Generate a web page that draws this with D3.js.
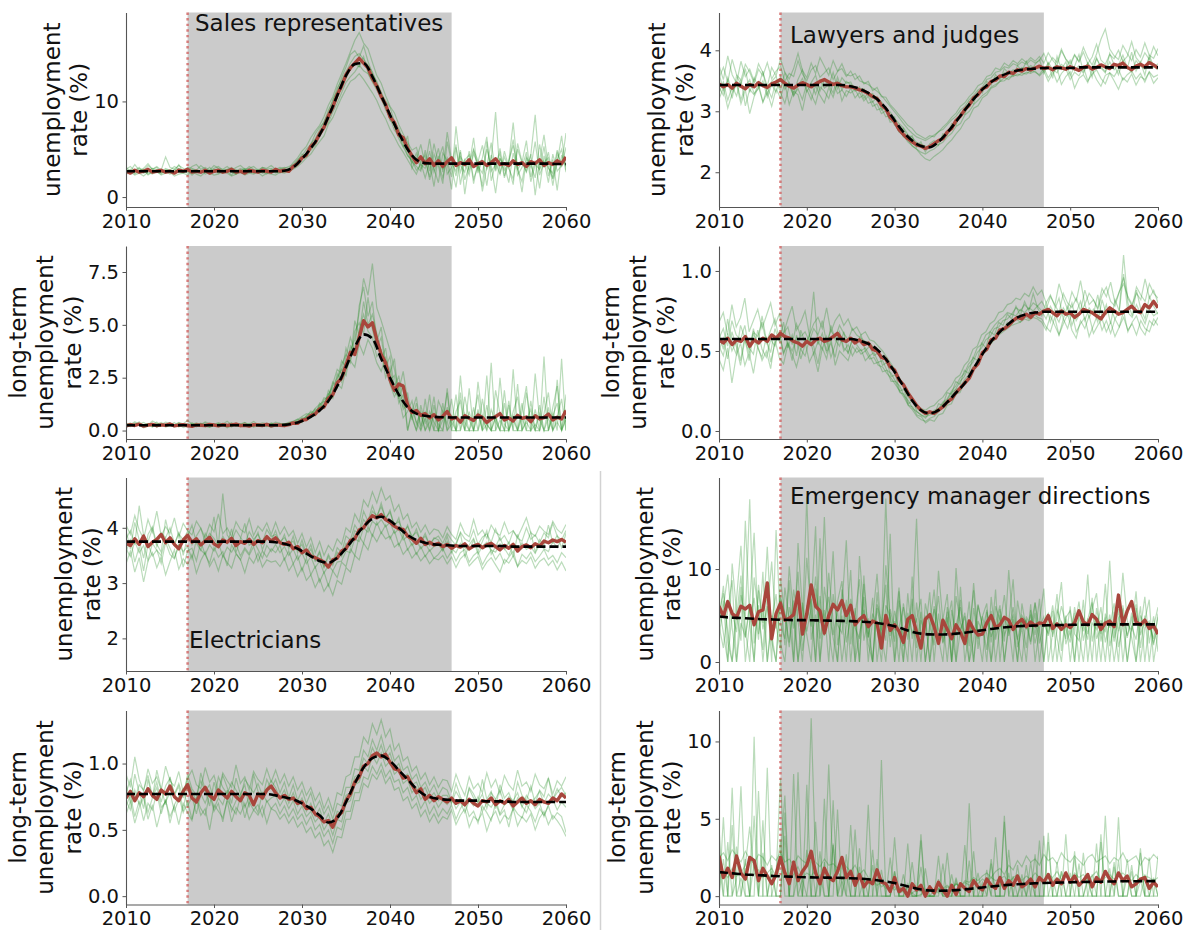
<!DOCTYPE html>
<html>
<head>
<meta charset="utf-8">
<script src="https://cdn.jsdelivr.net/npm/d3@7"></script>
<style>
  html, body { margin: 0; padding: 0; background: #fff; }
  svg { display: block; font-family: "DejaVu Sans", sans-serif; }
</style>
</head>
<body>
<svg id="chart" width="1187" height="930"></svg>
<script>
// ---------------- time axis ----------------
const period = [2010, 2060];
const xTicks = [2010, 2020, 2030, 2040, 2050, 2060];
const shockWindow = [2017, 2047];

// ---------------- Sales representatives: unemployment rate ----------------
// dashed trend: one value per year 2010..2060
const salesRateTrend = [2.7,2.7,2.7,2.7,2.7,2.7,2.7,2.7,2.7,2.7,2.7,2.7,2.7,2.7,2.7,2.7,2.7,2.7,
  2.75,3.1,4.0,5.1,6.5,8.4,10.6,12.7,13.9,14.0,12.6,10.6,8.6,6.7,5.0,3.9,3.55,
  3.5,3.5,3.5,3.5,3.5,3.5,3.5,3.5,3.5,3.5,3.5,3.5,3.5,3.5,3.45,3.45];
// highlighted run: half-yearly values 2010..2060
const salesRateHighlight = [2.7,2.5,2.8,2.6,2.7,2.9,2.6,2.7,2.8,2.6,2.7,2.5,2.8,2.7,2.9,2.6,2.7,2.6,2.8,2.5,2.7,2.8,2.6,2.7,2.9,2.6,2.7,2.5,2.8,2.7,2.6,2.8,2.7,2.6,2.9,2.7,2.8,2.7,
  3.2,3.5,4.1,4.4,5.3,5.7,6.6,7.3,8.5,9.4,10.7,11.6,12.8,13.5,14.0,14.5,14.0,13.5,12.4,11.6,10.5,9.7,8.4,7.8,6.5,6.2,5.1,4.3,3.6,4.2,3.5,
  4.0,3.3,3.8,3.2,3.7,4.1,3.3,3.6,3.4,3.9,3.2,3.5,3.7,3.3,3.6,4.0,3.4,3.5,3.3,3.8,3.4,3.6,3.2,3.7,3.5,3.9,3.3,3.6,3.4,3.8,3.5,4.2];
// simulated runs: half-yearly values 2010..2060
const salesRateRuns = [
  [2.9,2.6,2.8,3.1,2.5,2.7,3.0,2.6,2.4,2.9,2.8,2.6,3.0,2.7,2.5,2.9,2.8,2.6,2.7,3.1,2.6,2.5,2.8,2.9,2.7,2.4,2.8,3.0,2.6,2.7,2.9,2.5,2.8,2.7,2.6,3.0,2.8,2.9,
   3.3,3.8,4.5,4.2,5.6,6.1,7.0,7.9,8.8,10.2,11.1,12.5,13.6,14.9,15.3,14.6,15.8,14.2,12.9,12.1,10.8,10.1,9.4,7.9,7.2,5.9,4.8,3.5,4.6,2.9,3.8,
   2.1,4.5,3.2,1.4,5.8,3.6,2.7,4.9,1.8,3.3,6.2,2.5,3.9,1.2,4.4,3.0,5.1,2.2,3.7,7.8,2.9,1.6,4.2,3.4,2.0,5.5,3.1,4.7,1.9,3.6,6.4,2.8],
  [2.5,2.8,2.4,2.7,2.9,2.3,2.6,2.8,2.5,2.7,2.4,2.9,2.6,2.5,2.8,2.3,2.7,2.6,2.9,2.4,2.8,2.6,2.5,2.7,2.3,2.9,2.6,2.4,2.8,2.5,2.7,2.6,2.4,2.9,2.5,2.7,2.6,2.8,
   3.0,3.4,3.9,4.6,4.9,5.4,6.3,7.1,7.8,8.9,9.8,10.9,12.0,12.6,13.1,13.8,13.2,12.9,12.0,11.2,10.3,9.1,8.3,7.0,6.4,5.3,4.3,3.9,2.8,3.4,3.0,
   4.8,2.6,3.9,5.3,2.4,3.1,1.0,4.2,3.5,2.3,4.9,3.8,0.6,3.2,5.7,2.7,4.0,3.3,1.5,4.6,2.9,3.6,5.9,2.1,3.8,0.9,4.3,3.0,2.5,4.9,3.2,3.9],
  [2.9,3.2,2.7,3.0,2.8,3.3,2.9,3.1,2.6,3.0,2.8,3.2,2.9,2.7,3.1,3.0,2.8,3.3,2.9,2.7,3.0,3.2,2.8,2.9,3.1,2.7,3.0,2.8,3.2,2.9,2.7,3.1,2.9,3.0,2.8,2.9,3.1,3.0,
   3.6,4.1,4.8,5.3,6.2,6.9,7.5,8.4,9.6,10.5,11.8,12.9,14.0,15.2,16.4,17.2,16.1,15.5,14.1,12.7,11.9,10.6,9.5,8.8,7.6,6.6,5.7,4.9,5.2,3.6,4.4,
   1.8,3.4,5.1,2.6,6.8,3.9,2.2,4.7,0.3,3.6,5.0,2.8,4.1,6.3,1.7,3.5,2.4,4.8,3.1,1.3,5.6,3.7,2.6,4.4,8.6,2.9,3.8,1.5,4.5,2.7,3.3,5.2],
  [2.4,2.6,2.3,2.5,2.2,2.6,2.4,2.7,2.3,2.5,2.6,2.2,2.4,2.5,2.3,2.7,2.4,2.2,2.6,2.5,2.3,2.4,2.7,2.5,2.2,2.4,2.6,2.3,2.5,2.4,2.6,2.2,2.5,2.4,2.3,2.6,2.5,2.7,
   2.9,3.2,3.6,4.1,4.5,5.2,5.8,6.4,7.6,8.3,9.4,10.4,11.3,12.1,12.4,12.9,12.3,11.6,10.9,10.1,9.0,8.2,7.1,6.3,5.4,4.7,3.9,3.1,2.4,3.6,2.0,
   3.7,1.1,4.3,2.9,3.5,0.8,5.2,2.6,3.9,4.4,1.9,3.2,2.5,5.0,3.3,0.4,4.1,2.8,3.6,6.0,2.3,3.1,4.7,1.6,3.4,2.9,5.3,2.2,3.9,0.7,4.4,3.2],
  [3.1,2.7,3.4,2.8,3.0,3.5,2.9,3.2,2.8,4.2,3.1,2.9,3.3,3.0,2.7,3.2,3.4,2.9,3.1,2.8,3.3,3.0,2.9,3.2,2.8,3.1,3.3,2.9,3.0,3.2,2.8,3.1,3.0,3.3,2.9,3.1,3.0,3.2,
   3.4,3.9,4.3,5.0,5.5,6.6,7.3,7.8,9.1,10.0,11.4,12.2,13.1,14.0,14.7,15.0,14.4,13.8,13.1,11.9,11.0,9.8,8.6,7.4,6.1,5.2,6.4,3.0,4.0,5.5,3.3,
   6.1,3.0,1.5,4.6,3.8,2.1,7.4,3.3,2.6,4.8,1.4,3.7,5.4,2.9,3.9,8.9,2.4,4.2,3.0,1.9,5.0,3.6,2.7,4.5,0.2,3.8,6.5,3.1,2.0,4.6,3.4,6.7],
  [2.6,2.9,2.5,2.7,2.8,2.4,2.7,2.9,2.6,2.5,2.8,2.7,3.4,2.6,2.9,2.5,2.7,2.8,2.4,2.6,2.9,2.7,2.5,2.8,2.6,2.4,2.7,2.9,2.6,2.8,2.5,2.7,2.6,2.8,2.7,2.5,2.8,2.7,
   3.1,3.5,4.2,4.4,5.3,5.6,6.8,7.3,8.2,9.3,10.4,11.6,12.4,13.4,14.0,13.6,14.7,13.0,12.2,11.5,10.4,9.7,8.0,7.7,6.9,5.6,4.4,3.7,3.2,2.7,4.9,
   2.7,5.6,3.5,2.0,4.1,3.2,5.5,1.3,3.9,2.8,4.5,3.5,1.1,5.8,2.7,3.4,4.6,2.0,3.8,5.4,3.2,0.5,4.0,3.1,5.8,2.3,3.6,4.1,1.2,3.9,5.0,2.6]
];

// ---------------- Sales representatives: long-term unemployment rate ----------------
const salesLongTrend = [0.25,0.25,0.25,0.25,0.25,0.25,0.25,0.25,0.25,0.25,0.25,0.25,0.25,0.25,0.25,0.25,0.25,0.25,
  0.27,0.33,0.45,0.65,0.95,1.4,2.1,3.0,3.95,4.55,4.35,3.4,2.5,1.7,1.1,0.8,0.7,
  0.65,0.63,0.62,0.62,0.62,0.62,0.62,0.62,0.62,0.62,0.62,0.62,0.62,0.62,0.62,0.62];
const salesLongHighlight = [0.22,0.28,0.24,0.30,0.21,0.26,0.29,0.23,0.27,0.25,0.31,0.22,0.26,0.28,0.24,0.20,0.27,0.25,0.23,0.29,0.26,0.22,0.28,0.24,0.27,0.30,0.23,0.25,0.21,0.28,0.26,0.24,0.29,0.22,0.27,0.25,0.23,0.28,
  0.36,0.34,0.49,0.52,0.71,0.78,1.02,1.12,1.52,1.70,2.25,2.48,3.1,3.7,3.6,4.4,5.2,4.9,5.1,4.3,3.6,3.2,2.4,1.9,2.2,2.1,1.2,0.85,0.95,0.72,0.8,
  0.6,0.75,0.5,0.68,0.9,0.55,0.62,0.4,0.7,0.58,0.48,0.73,0.62,0.38,0.55,0.66,0.8,0.5,0.6,0.45,0.72,0.58,0.64,0.42,0.7,0.55,0.61,0.78,0.5,0.63,0.55,0.95];
const salesLongRuns = [
  [0.18,0.32,0.25,0.41,0.20,0.28,0.35,0.15,0.30,0.22,0.27,0.38,0.19,0.26,0.33,0.21,0.29,0.24,0.36,0.17,0.28,0.31,0.22,0.26,0.34,0.20,0.29,0.25,0.18,0.32,0.27,0.23,0.35,0.21,0.28,0.26,0.30,0.37,
   0.42,0.55,0.38,0.72,0.85,0.70,1.3,1.1,1.9,1.6,2.7,2.3,3.5,4.4,3.8,5.9,6.8,5.4,6.1,4.2,4.9,3.1,2.7,3.4,1.5,2.2,0.0,0.9,1.6,0.0,0.6,
   0.0,1.2,0.0,0.5,1.8,0.0,0.0,2.6,0.4,0.0,1.1,0.0,0.7,0.0,3.2,0.0,0.5,0.0,1.4,0.0,0.0,0.9,2.1,0.0,0.3,0.0,1.6,0.0,0.8,0.0,3.4,0.0],
  [0.30,0.22,0.36,0.28,0.19,0.33,0.25,0.40,0.21,0.31,0.26,0.18,0.34,0.29,0.23,0.37,0.24,0.30,0.20,0.32,0.27,0.19,0.35,0.28,0.22,0.30,0.25,0.38,0.21,0.27,0.33,0.24,0.19,0.31,0.26,0.34,0.28,0.32,
   0.37,0.48,0.60,0.51,0.78,1.02,0.95,1.45,1.62,2.3,2.0,3.1,3.6,3.2,4.7,5.1,4.6,6.3,4.8,3.9,4.4,3.0,3.5,2.0,2.6,1.1,1.8,0.5,1.3,0.2,0.9,
   0.6,0.0,1.4,0.9,0.0,0.3,1.7,0.0,0.8,0.0,0.0,2.3,0.6,0.0,1.0,0.4,0.0,1.9,0.0,0.7,0.0,1.3,0.0,0.0,2.7,0.5,0.0,1.1,0.0,0.6,1.5,0.0],
  [0.15,0.24,0.20,0.29,0.13,0.22,0.18,0.27,0.31,0.16,0.23,0.19,0.28,0.14,0.21,0.25,0.17,0.30,0.20,0.15,0.24,0.19,0.26,0.13,0.22,0.28,0.18,0.21,0.25,0.16,0.23,0.19,0.27,0.15,0.22,0.20,0.26,0.24,
   0.30,0.41,0.46,0.59,0.66,0.88,1.18,1.05,1.70,2.1,2.5,2.9,2.6,3.8,4.3,5.6,7.2,6.4,7.9,5.8,5.2,4.5,3.8,2.9,1.9,2.8,1.4,0.7,0.0,1.2,0.3,
   1.7,0.0,0.0,0.9,0.3,1.5,0.0,0.6,0.0,2.0,0.0,0.8,0.0,1.2,0.0,0.0,2.5,0.3,0.0,0.9,1.6,0.0,0.4,0.0,1.0,0.0,3.5,0.0,0.7,1.3,0.0,0.5],
  [0.35,0.28,0.42,0.31,0.38,0.26,0.45,0.33,0.29,0.40,0.34,0.27,0.39,0.32,0.48,0.30,0.36,0.28,0.41,0.33,0.29,0.37,0.31,0.44,0.27,0.35,0.32,0.38,0.30,0.43,0.29,0.36,0.33,0.28,0.40,0.34,0.31,0.39,
   0.45,0.52,0.66,0.80,0.74,1.05,1.25,1.38,1.31,1.98,2.2,2.0,2.9,3.3,3.0,4.1,3.6,4.3,3.9,3.2,2.8,3.5,2.2,1.6,2.0,1.0,1.3,0.6,0.0,0.8,0.0,
   0.9,0.4,0.0,1.3,0.0,0.7,0.0,0.0,1.6,0.5,0.0,1.0,0.0,2.6,0.0,0.6,0.0,0.0,1.2,0.0,2.2,0.0,0.5,1.0,0.0,0.0,0.8,1.8,0.0,0.4,0.0,1.7],
  [0.24,0.19,0.33,0.26,0.22,0.29,0.17,0.31,0.25,0.20,0.35,0.23,0.18,0.30,0.26,0.21,0.33,0.19,0.27,0.24,0.31,0.20,0.26,0.29,0.17,0.33,0.22,0.27,0.24,0.19,0.30,0.26,0.21,0.34,0.23,0.28,0.20,0.29,
   0.39,0.33,0.57,0.64,0.92,0.81,1.12,1.55,1.48,2.2,2.9,2.7,3.9,3.3,5.2,4.5,6.1,5.0,5.5,4.6,3.3,3.9,2.4,2.6,1.3,1.7,0.0,1.0,0.4,0.0,1.5,
   0.0,0.8,0.3,0.0,2.0,0.0,0.9,1.4,0.0,0.0,0.6,1.7,0.0,0.3,0.0,1.9,0.8,0.0,0.0,2.9,0.0,0.6,0.0,1.4,0.0,0.8,0.0,0.0,1.1,2.1,0.0,0.6],
  [0.28,0.36,0.22,0.30,0.27,0.34,0.21,0.29,0.38,0.25,0.31,0.23,0.36,0.27,0.20,0.32,0.28,0.35,0.24,0.30,0.22,0.33,0.29,0.26,0.37,0.23,0.30,0.27,0.34,0.22,0.31,0.28,0.25,0.36,0.29,0.24,0.33,0.31,
   0.35,0.44,0.51,0.68,0.62,0.95,0.90,1.28,1.75,1.52,2.4,3.3,3.0,4.0,3.7,4.8,5.5,4.7,4.4,3.5,3.8,2.5,3.0,1.8,1.6,0.6,0.9,1.4,0.3,0.9,0.0,
   0.4,1.6,0.0,0.0,1.1,0.4,0.0,1.8,0.0,0.9,0.0,0.0,1.5,0.3,0.0,0.7,0.0,1.3,0.0,0.5,0.0,0.0,1.8,0.4,0.0,1.2,0.0,0.6,0.0,2.4,0.0,1.0]
];

// ---------------- Lawyers and judges: unemployment rate ----------------
const lawyersRateTrend = [3.43,3.43,3.43,3.43,3.43,3.43,3.43,3.43,3.43,3.43,3.43,3.43,3.43,3.43,3.43,
  3.41,3.37,3.30,3.20,3.05,2.85,2.66,2.52,2.43,2.41,2.50,2.65,2.83,3.02,3.20,3.36,3.48,3.57,3.63,3.67,3.69,3.70,
  3.71,3.71,3.71,3.71,3.72,3.72,3.72,3.72,3.72,3.72,3.72,3.72,3.72,3.72];
const lawyersRateHighlight = [3.45,3.40,3.44,3.38,3.46,3.41,3.37,3.44,3.40,3.47,3.42,3.39,3.45,3.48,3.52,3.46,3.41,3.38,3.43,3.47,3.44,3.40,3.45,3.49,3.52,3.48,3.44,3.46,3.42,3.40,
  3.40,3.38,3.35,3.33,3.29,3.24,3.21,3.10,3.04,2.90,2.83,2.70,2.62,2.55,2.50,2.45,2.43,2.39,2.42,2.47,2.52,2.55,2.66,2.72,2.85,2.92,3.03,3.10,3.22,3.27,3.37,3.40,3.49,3.51,3.58,3.57,3.64,3.62,3.68,3.66,3.70,3.68,3.71,
  3.74,3.70,3.72,3.68,3.73,3.71,3.69,3.73,3.70,3.67,3.72,3.74,3.69,3.72,3.76,3.73,3.70,3.77,3.75,3.79,3.72,3.68,3.74,3.77,3.73,3.80,3.76,3.71];
const lawyersRateRuns = [
  [3.62,3.35,3.50,3.21,3.58,3.44,3.70,3.31,3.55,3.40,3.66,3.28,3.49,3.57,3.36,3.63,3.45,3.30,3.52,3.68,3.39,3.47,3.59,3.33,3.51,3.42,3.64,3.37,3.55,3.46,
   3.48,3.33,3.40,3.21,3.30,3.15,3.24,3.02,3.08,2.87,2.91,2.68,2.72,2.55,2.60,2.41,2.50,2.33,2.47,2.52,2.44,2.63,2.61,2.80,2.77,2.98,2.95,3.16,3.12,3.33,3.30,3.49,3.43,3.60,3.51,3.70,3.62,3.58,3.75,3.66,3.82,3.64,3.77,
   3.85,3.62,3.78,3.54,3.90,3.69,3.81,3.58,3.74,3.93,3.65,3.79,3.56,3.88,3.71,3.63,3.95,3.76,3.60,3.84,3.70,3.97,3.66,3.81,3.59,3.92,3.74,3.68],
  [3.30,3.48,3.18,3.41,3.25,3.52,3.09,3.36,3.27,3.45,3.15,3.39,3.22,3.50,3.31,3.13,3.42,3.26,3.37,3.19,3.46,3.28,3.12,3.40,3.33,3.21,3.47,3.29,3.35,3.24,
   3.38,3.22,3.31,3.17,3.25,3.08,3.12,2.96,3.01,2.82,2.84,2.66,2.61,2.50,2.44,2.38,2.33,2.30,2.35,2.38,2.45,2.49,2.58,2.64,2.75,2.80,2.94,3.00,3.11,3.18,3.26,3.31,3.40,3.44,3.49,3.55,3.52,3.60,3.58,3.63,3.61,3.67,3.64,
   3.60,3.71,3.55,3.66,3.48,3.62,3.70,3.52,3.64,3.58,3.73,3.50,3.61,3.68,3.54,3.45,3.63,3.57,3.69,3.51,3.60,3.66,3.53,3.62,3.48,3.65,3.56,3.60],
  [3.55,3.72,3.48,3.85,3.60,3.51,3.77,3.64,3.46,3.69,3.58,3.80,3.53,3.66,3.74,3.49,3.62,3.57,3.83,3.61,3.50,3.68,3.75,3.56,3.63,3.71,3.52,3.65,3.78,3.60,
   3.58,3.62,3.50,3.47,3.44,3.38,3.33,3.26,3.17,3.08,2.99,2.90,2.80,2.71,2.64,2.58,2.55,2.52,2.56,2.61,2.66,2.74,2.81,2.90,2.97,3.08,3.14,3.24,3.31,3.42,3.46,3.57,3.60,3.71,3.68,3.79,3.74,3.83,3.78,3.86,3.80,3.88,3.82,
   3.90,3.79,3.96,3.84,3.75,3.99,3.86,3.78,3.93,3.82,4.05,3.88,3.76,3.94,4.18,4.35,4.02,3.91,3.85,4.08,3.95,3.83,4.01,3.89,4.12,3.92,3.87,4.03],
  [3.20,3.38,3.05,3.29,3.44,3.12,3.35,2.96,3.24,3.40,3.15,3.31,3.08,3.37,3.22,3.46,3.11,3.33,3.27,3.01,3.36,3.19,3.42,3.26,3.14,3.39,3.23,3.48,3.17,3.34,
   3.30,3.36,3.22,3.27,3.13,3.16,3.02,3.05,2.91,2.93,2.77,2.74,2.58,2.54,2.43,2.38,2.29,2.22,2.19,2.26,2.31,2.37,2.46,2.53,2.63,2.71,2.84,2.90,3.05,3.09,3.22,3.27,3.38,3.41,3.49,3.50,3.56,3.57,3.61,3.59,3.64,3.62,3.66,
   3.58,3.66,3.49,3.62,3.71,3.44,3.57,3.65,3.38,3.54,3.60,3.47,3.68,3.52,3.41,3.59,3.63,3.50,3.36,3.55,3.48,3.61,3.43,3.57,3.52,3.64,3.46,3.55],
  [3.75,3.52,3.91,3.60,3.46,3.82,3.57,3.69,3.49,3.78,3.63,3.41,3.72,3.58,3.86,3.64,3.53,3.70,3.95,3.67,3.55,3.79,3.62,3.88,3.74,3.59,3.83,3.66,3.70,3.57,
   3.66,3.52,3.58,3.45,3.49,3.34,3.39,3.24,3.23,3.11,3.03,2.94,2.86,2.77,2.72,2.63,2.59,2.55,2.60,2.58,2.67,2.70,2.78,2.86,2.92,3.02,3.08,3.19,3.26,3.35,3.40,3.52,3.55,3.64,3.66,3.73,3.71,3.78,3.75,3.81,3.77,3.84,3.79,
   3.83,3.95,3.76,3.88,3.80,4.02,3.85,3.74,3.92,3.81,3.97,3.78,3.89,4.10,3.84,3.77,3.93,3.86,4.00,3.82,3.90,4.14,3.88,3.79,3.96,3.85,4.06,3.91],
  [3.40,3.26,3.55,3.33,3.48,3.19,3.41,3.52,3.29,3.37,3.50,3.23,3.44,3.31,3.57,3.36,3.47,3.25,3.42,3.54,3.32,3.45,3.28,3.51,3.38,3.43,3.30,3.56,3.35,3.49,
   3.44,3.40,3.35,3.37,3.26,3.29,3.17,3.16,3.03,2.99,2.88,2.80,2.73,2.62,2.57,2.49,2.46,2.43,2.40,2.48,2.50,2.60,2.62,2.76,2.80,2.93,2.99,3.12,3.18,3.29,3.35,3.43,3.47,3.55,3.56,3.63,3.62,3.68,3.65,3.72,3.69,3.75,3.70,
   3.72,3.66,3.80,3.69,3.63,3.77,3.71,3.84,3.67,3.75,3.62,3.79,3.70,3.86,3.73,3.65,3.81,3.68,3.76,3.92,3.71,3.64,3.83,3.74,3.69,3.87,3.72,3.78]
];

// ---------------- Lawyers and judges: long-term unemployment rate ----------------
const lawyersLongTrend = [0.575,0.575,0.575,0.575,0.575,0.575,0.575,0.575,0.575,0.575,0.575,0.575,0.575,0.575,0.575,0.575,
  0.565,0.545,0.51,0.45,0.37,0.28,0.19,0.13,0.11,0.13,0.18,0.24,0.30,0.39,0.48,0.56,0.62,0.67,0.71,0.73,0.74,
  0.745,0.745,0.745,0.745,0.745,0.745,0.745,0.745,0.745,0.745,0.745,0.745,0.745,0.745];
const lawyersLongHighlight = [0.57,0.55,0.58,0.54,0.57,0.56,0.59,0.53,0.57,0.55,0.58,0.56,0.60,0.58,0.61,0.59,0.58,0.56,0.55,0.53,0.56,0.54,0.57,0.58,0.56,0.57,0.59,0.61,0.57,0.56,0.58,0.55,
  0.57,0.54,0.55,0.51,0.50,0.46,0.45,0.40,0.38,0.32,0.29,0.24,0.20,0.16,0.13,0.11,0.12,0.11,0.13,0.15,0.18,0.20,0.24,0.27,0.30,0.33,0.39,0.42,0.49,0.51,0.57,0.58,0.63,0.64,0.66,0.69,0.71,0.70,0.73,0.71,0.74,
  0.73,0.75,0.76,0.74,0.72,0.75,0.73,0.74,0.71,0.73,0.76,0.75,0.74,0.72,0.70,0.74,0.77,0.75,0.73,0.74,0.76,0.78,0.75,0.74,0.79,0.77,0.81,0.77];
const lawyersLongRuns = [
  [0.62,0.51,0.70,0.55,0.48,0.66,0.58,0.44,0.61,0.53,0.72,0.57,0.49,0.64,0.56,0.68,0.52,0.60,0.47,0.63,0.55,0.59,0.87,0.54,0.61,0.50,0.66,0.57,0.53,0.62,0.48,0.58,
   0.55,0.60,0.50,0.53,0.47,0.49,0.41,0.43,0.34,0.35,0.25,0.26,0.17,0.19,0.12,0.10,0.08,0.12,0.10,0.17,0.16,0.24,0.23,0.31,0.29,0.38,0.36,0.46,0.44,0.55,0.52,0.62,0.60,0.68,0.66,0.73,0.70,0.78,0.72,0.81,0.75,0.86,0.77,
   0.72,0.80,0.68,0.76,0.83,0.70,0.78,0.66,0.74,0.81,0.69,0.77,0.73,0.85,0.71,0.79,0.67,0.82,0.75,1.10,0.80,0.72,0.88,0.76,0.70,0.84,0.78,0.73],
  [0.50,0.58,0.45,0.62,0.53,0.41,0.57,0.49,0.64,0.52,0.46,0.59,0.43,0.55,0.61,0.48,0.56,0.44,0.60,0.51,0.47,0.57,0.53,0.42,0.58,0.49,0.55,0.46,0.61,0.50,0.54,0.47,
   0.52,0.48,0.50,0.45,0.46,0.41,0.40,0.36,0.33,0.29,0.25,0.21,0.16,0.13,0.09,0.07,0.06,0.08,0.09,0.12,0.15,0.18,0.22,0.26,0.27,0.32,0.35,0.40,0.43,0.47,0.50,0.54,0.57,0.60,0.62,0.64,0.66,0.67,0.68,0.70,0.69,0.71,0.70,
   0.68,0.63,0.72,0.66,0.60,0.70,0.64,0.74,0.62,0.67,0.71,0.59,0.66,0.73,0.63,0.69,0.61,0.70,0.65,0.75,0.62,0.68,0.72,0.64,0.60,0.69,0.66,0.71],
  [0.68,0.74,0.60,0.79,0.65,0.71,0.83,0.62,0.69,0.76,0.64,0.72,0.80,0.66,0.73,0.61,0.70,0.78,0.63,0.68,0.75,0.60,0.67,0.71,0.64,0.77,0.62,0.69,0.73,0.66,0.70,0.63,
   0.65,0.60,0.62,0.57,0.56,0.53,0.50,0.46,0.42,0.38,0.33,0.28,0.24,0.19,0.16,0.14,0.13,0.15,0.16,0.19,0.21,0.25,0.28,0.33,0.35,0.41,0.44,0.51,0.53,0.60,0.62,0.67,0.69,0.74,0.75,0.79,0.80,0.83,0.82,0.86,0.84,0.90,0.85,
   0.88,0.80,0.85,0.78,0.92,0.83,0.76,0.87,0.81,0.94,0.79,0.86,0.82,0.77,0.89,0.84,0.93,0.80,0.87,0.96,0.83,0.78,0.90,0.85,0.81,0.92,0.86,0.83],
  [0.45,0.38,0.52,0.30,0.47,0.55,0.41,0.49,0.36,0.53,0.44,0.50,0.39,0.57,0.46,0.42,0.54,0.48,0.40,0.51,0.56,0.43,0.49,0.37,0.52,0.45,0.58,0.41,0.50,0.47,0.44,0.53,
   0.49,0.51,0.44,0.47,0.42,0.43,0.37,0.38,0.31,0.31,0.24,0.23,0.16,0.15,0.10,0.09,0.05,0.07,0.06,0.10,0.11,0.16,0.17,0.23,0.24,0.30,0.32,0.39,0.41,0.48,0.50,0.57,0.58,0.64,0.63,0.68,0.67,0.70,0.68,0.72,0.70,0.74,0.71,
   0.70,0.65,0.62,0.71,0.60,0.67,0.73,0.63,0.58,0.69,0.64,0.72,0.61,0.66,0.70,0.62,0.68,0.59,0.65,0.71,0.63,0.67,0.60,0.69,0.64,0.62,0.70,0.66],
  [0.58,0.64,0.53,0.69,0.60,0.57,0.66,0.51,0.62,0.59,0.68,0.55,0.63,0.70,0.57,0.61,0.65,0.54,0.67,0.59,0.62,0.56,0.64,0.60,0.69,0.55,0.63,0.58,0.66,0.61,0.57,0.64,
   0.60,0.58,0.56,0.55,0.52,0.48,0.47,0.43,0.40,0.35,0.31,0.27,0.21,0.18,0.14,0.12,0.10,0.11,0.13,0.14,0.18,0.20,0.25,0.28,0.33,0.36,0.42,0.45,0.52,0.54,0.60,0.62,0.66,0.69,0.71,0.74,0.73,0.77,0.75,0.79,0.76,0.80,0.78,
   0.81,0.76,0.84,0.79,0.74,0.86,0.80,0.77,0.83,0.75,0.88,0.79,0.82,0.76,0.85,0.90,0.81,0.78,0.87,0.92,0.84,0.79,0.86,0.82,0.95,0.83,0.88,0.80],
  [0.53,0.47,0.61,0.50,0.56,0.44,0.59,0.52,0.48,0.63,0.51,0.46,0.57,0.53,0.62,0.49,0.55,0.50,0.58,0.45,0.54,0.60,0.48,0.56,0.51,0.59,0.46,0.54,0.62,0.52,0.49,0.57,
   0.54,0.50,0.52,0.47,0.49,0.43,0.44,0.38,0.36,0.31,0.28,0.22,0.19,0.14,0.12,0.10,0.09,0.10,0.12,0.13,0.17,0.19,0.24,0.26,0.31,0.34,0.40,0.43,0.49,0.52,0.57,0.59,0.64,0.65,0.69,0.70,0.73,0.72,0.76,0.74,0.77,0.75,0.78,
   0.75,0.70,0.78,0.73,0.68,0.77,0.72,0.80,0.69,0.74,0.79,0.71,0.76,0.68,0.82,0.73,0.77,0.70,0.75,0.98,0.74,0.71,0.79,0.73,0.67,0.76,0.72,0.74]
];

// ---------------- Electricians: unemployment rate ----------------
const electriciansRateTrend = [3.75,3.75,3.75,3.75,3.75,3.75,3.75,3.75,3.75,3.75,3.75,3.75,3.75,3.75,3.75,3.75,3.75,
  3.74,3.71,3.66,3.58,3.49,3.40,3.37,3.46,3.63,3.83,4.02,4.16,4.20,4.13,4.00,3.87,3.78,3.73,3.70,3.69,3.68,
  3.67,3.67,3.67,3.67,3.67,3.67,3.66,3.66,3.66,3.66,3.66,3.66,3.66];
const electriciansRateHighlight = [3.72,3.68,3.80,3.70,3.85,3.66,3.74,3.79,3.88,3.73,3.82,3.70,3.62,3.78,3.86,3.74,3.80,3.69,3.76,3.83,3.71,3.66,3.78,3.74,3.81,3.68,3.75,3.72,3.79,3.70,3.77,3.73,3.84,3.76,
  3.82,3.73,3.70,3.74,3.62,3.66,3.55,3.60,3.49,3.46,3.42,3.38,3.29,3.42,3.45,3.58,3.62,3.77,3.80,3.96,4.00,4.12,4.22,4.18,4.24,4.15,4.10,4.03,3.98,3.97,3.85,3.80,3.72,3.81,3.70,3.74,3.69,
  3.72,3.66,3.70,3.63,3.68,3.65,3.71,3.62,3.67,3.70,3.64,3.69,3.72,3.66,3.60,3.68,3.63,3.70,3.58,3.66,3.69,3.64,3.71,3.67,3.76,3.73,3.78,3.75,3.79,3.74];
const electriciansRateRuns = [
  [3.95,3.62,4.10,3.78,3.45,3.88,4.02,3.70,3.56,4.15,3.81,3.67,3.93,3.50,3.84,4.05,3.72,3.59,3.90,3.76,4.20,3.63,3.85,3.71,3.98,3.55,3.80,4.08,3.68,3.74,3.92,3.60,3.83,3.77,
   3.95,3.70,3.88,3.62,3.85,3.55,3.78,3.52,3.70,3.41,3.58,3.30,3.52,3.36,3.64,3.55,3.85,3.78,4.05,3.92,4.30,4.12,4.40,4.18,4.45,4.15,4.32,4.02,4.18,3.85,4.05,3.80,3.98,3.74,3.90,3.68,3.82,
   3.78,3.60,3.85,3.55,3.72,3.90,3.48,3.69,3.81,3.58,3.75,3.95,3.52,3.66,3.83,3.61,3.74,3.47,3.88,3.63,3.71,3.92,3.56,3.79,3.68,4.05,3.73,3.86,3.64,3.90],
  [3.55,3.80,3.38,3.66,3.22,3.71,3.49,3.60,3.35,3.74,3.52,3.44,3.68,3.29,3.58,3.63,3.40,3.75,3.51,3.36,3.65,3.47,3.57,3.31,3.69,3.54,3.42,3.61,3.50,3.66,3.39,3.58,3.47,3.62,
   3.55,3.68,3.42,3.58,3.35,3.50,3.22,3.45,3.15,3.30,3.02,3.20,2.95,3.22,3.10,3.38,3.30,3.62,3.50,3.85,3.72,4.02,3.85,4.10,3.90,4.05,3.80,3.95,3.68,3.85,3.60,3.72,3.52,3.66,3.48,3.60,3.45,
   3.52,3.63,3.45,3.58,3.40,3.55,3.61,3.38,3.50,3.57,3.33,3.48,3.60,3.42,3.54,3.35,3.47,3.58,3.30,3.52,3.44,3.56,3.39,3.49,3.61,3.43,3.50,3.37,3.55,3.46],
  [4.05,3.88,4.22,3.96,3.80,4.15,3.92,4.30,3.85,4.02,3.90,4.18,3.83,4.08,3.95,3.87,4.12,3.99,3.82,4.06,3.93,4.25,3.89,4.00,3.84,4.11,3.97,3.91,4.16,3.86,4.03,3.94,4.09,3.88,
   4.10,3.88,4.02,3.85,3.95,3.72,3.90,3.65,3.82,3.55,3.75,3.50,3.68,3.58,3.80,3.70,4.00,3.92,4.25,4.10,4.50,4.38,4.65,4.45,4.72,4.50,4.58,4.30,4.42,4.15,4.25,4.00,4.10,3.92,4.05,3.88,3.98,
   3.95,3.82,4.02,3.88,3.79,4.08,3.90,3.84,4.15,3.87,3.96,3.81,4.05,3.92,3.86,4.10,3.89,3.95,3.83,4.00,4.18,3.91,3.85,4.03,3.94,3.88,4.12,3.97,3.90,4.06],
  [3.35,3.58,3.20,3.46,3.02,3.40,3.55,3.28,3.48,3.15,3.39,3.60,3.25,3.44,3.33,3.52,3.18,3.41,3.56,3.30,3.45,3.22,3.50,3.37,3.27,3.53,3.43,3.19,3.47,3.36,3.54,3.29,3.42,3.38,
   3.40,3.30,3.45,3.22,3.35,3.12,3.28,3.05,3.15,2.92,3.08,2.85,2.98,2.78,3.05,2.98,3.28,3.20,3.50,3.42,3.72,3.60,3.88,3.75,3.92,3.80,3.85,3.65,3.72,3.52,3.62,3.45,3.55,3.40,3.50,3.35,3.45,
   3.42,3.50,3.35,3.47,3.28,3.44,3.52,3.31,3.40,3.48,3.25,3.38,3.46,3.33,3.20,3.43,3.36,3.49,3.30,3.41,3.35,3.47,3.27,3.39,3.45,3.32,3.41,3.24,3.38,3.22],
  [3.80,3.95,3.70,4.40,3.86,3.75,3.98,3.66,3.91,3.82,4.00,3.72,3.89,3.78,3.94,3.69,3.85,3.99,3.74,3.90,3.81,3.68,4.62,3.87,3.76,3.96,3.83,3.71,3.93,3.79,3.88,3.73,3.97,3.84,
   3.88,3.75,3.82,3.70,3.76,3.60,3.70,3.48,3.62,3.40,3.55,3.28,3.48,3.32,3.56,3.48,3.72,3.66,3.95,3.88,4.15,4.05,4.30,4.22,4.38,4.18,4.28,4.05,4.12,3.92,4.02,3.85,3.92,3.76,3.85,3.70,3.80,
   3.85,3.72,3.90,3.78,3.68,3.92,3.80,3.75,3.96,3.70,3.83,3.89,3.74,3.98,3.77,3.86,3.71,3.94,3.81,3.76,4.00,3.79,3.87,3.73,3.91,3.82,4.08,3.85,3.78,3.95],
  [3.62,3.48,3.75,3.55,3.68,3.41,3.72,3.59,3.50,3.81,3.63,3.46,3.70,3.57,3.66,3.44,3.78,3.60,3.52,3.69,3.58,3.74,3.47,3.65,3.56,3.71,3.49,3.64,3.53,3.76,3.61,3.45,3.68,3.57,
   3.70,3.55,3.66,3.50,3.62,3.42,3.55,3.35,3.48,3.28,3.40,3.18,3.32,3.22,3.38,3.40,3.58,3.55,3.80,3.75,4.00,3.92,4.12,4.05,4.15,4.02,4.10,3.90,3.98,3.78,3.85,3.68,3.78,3.62,3.72,3.58,3.66,
   3.70,3.58,3.75,3.62,3.55,3.72,3.64,3.59,3.78,3.52,3.67,3.74,3.60,3.56,3.71,3.63,3.50,3.69,3.58,3.73,3.61,3.66,3.54,3.70,3.62,3.57,3.75,3.64,3.80,3.68]
];

// ---------------- Electricians: long-term unemployment rate ----------------
const electriciansLongTrend = [0.77,0.77,0.77,0.77,0.77,0.77,0.77,0.77,0.77,0.77,0.77,0.77,0.77,0.77,0.77,0.77,0.77,
  0.76,0.745,0.73,0.70,0.66,0.61,0.555,0.59,0.71,0.85,0.97,1.04,1.06,1.02,0.95,0.88,0.81,0.76,0.74,0.73,0.725,
  0.72,0.72,0.72,0.715,0.715,0.715,0.71,0.71,0.71,0.71,0.71,0.71,0.71];
const electriciansLongHighlight = [0.74,0.79,0.72,0.78,0.75,0.81,0.76,0.73,0.80,0.77,0.83,0.75,0.72,0.79,0.84,0.74,0.71,0.78,0.82,0.76,0.73,0.80,0.77,0.74,0.79,0.75,0.72,0.78,0.76,0.69,0.77,0.74,0.80,0.83,
  0.78,0.74,0.76,0.73,0.74,0.70,0.71,0.66,0.67,0.62,0.60,0.56,0.57,0.52,0.60,0.63,0.72,0.77,0.86,0.90,0.98,1.00,1.06,1.08,1.05,1.07,1.01,0.96,0.95,0.89,0.90,0.84,0.78,0.81,0.73,0.76,0.72,0.75,0.73,
  0.71,0.74,0.70,0.72,0.69,0.73,0.70,0.68,0.72,0.71,0.74,0.69,0.72,0.70,0.73,0.68,0.71,0.74,0.70,0.72,0.69,0.73,0.71,0.70,0.74,0.72,0.77,0.74];
const electriciansLongRuns = [
  [0.85,0.70,0.92,0.78,0.66,0.88,0.74,0.95,0.81,0.69,0.90,0.76,0.83,0.64,0.87,0.79,0.72,0.93,0.80,0.68,0.86,0.75,0.91,0.82,0.70,0.89,0.77,0.84,0.67,0.92,0.79,0.73,0.88,0.81,
   0.88,0.78,0.86,0.74,0.84,0.72,0.80,0.70,0.78,0.66,0.72,0.62,0.68,0.58,0.70,0.68,0.82,0.82,0.96,0.95,1.10,1.05,1.18,1.10,1.21,1.08,1.14,1.02,1.06,0.95,0.98,0.88,0.92,0.82,0.86,0.78,0.84,0.76,0.82,
   0.80,0.71,0.85,0.75,0.68,0.82,0.77,0.70,0.88,0.73,0.79,0.66,0.84,0.74,0.78,0.69,0.86,0.76,0.72,0.83,0.70,0.80,0.75,0.89,0.73,0.78,0.82,0.76],
  [0.68,0.76,0.60,0.72,0.57,0.70,0.65,0.78,0.62,0.73,0.55,0.69,0.75,0.63,0.71,0.58,0.74,0.66,0.61,0.77,0.64,0.70,0.56,0.73,0.67,0.62,0.75,0.59,0.71,0.65,0.69,0.60,0.72,0.66,
   0.70,0.62,0.68,0.60,0.66,0.58,0.62,0.54,0.60,0.50,0.54,0.45,0.50,0.40,0.52,0.50,0.64,0.64,0.78,0.78,0.90,0.88,0.98,0.92,1.00,0.90,0.95,0.86,0.88,0.78,0.82,0.72,0.76,0.66,0.72,0.62,0.68,0.60,0.66,
   0.62,0.69,0.58,0.66,0.71,0.60,0.64,0.55,0.68,0.63,0.57,0.70,0.61,0.65,0.52,0.67,0.62,0.59,0.69,0.64,0.56,0.66,0.61,0.68,0.58,0.63,0.60,0.48],
  [0.92,0.82,1.05,0.88,0.79,0.96,0.85,0.90,0.80,0.98,0.87,0.83,0.94,0.78,0.89,0.95,0.84,0.81,0.97,0.86,0.91,0.79,0.93,0.87,0.82,0.99,0.85,0.90,0.80,0.94,0.88,0.84,0.96,0.86,
   0.95,0.85,0.92,0.83,0.90,0.80,0.86,0.76,0.82,0.72,0.78,0.66,0.74,0.64,0.78,0.76,0.90,0.92,1.05,1.05,1.20,1.15,1.30,1.22,1.33,1.20,1.26,1.10,1.15,1.02,1.05,0.94,0.98,0.88,0.93,0.84,0.90,0.82,0.88,
   0.87,0.79,0.92,0.83,0.76,0.90,0.81,0.85,0.78,0.93,0.82,0.88,0.77,0.91,0.84,0.80,0.95,0.83,0.86,0.79,0.92,0.84,0.81,0.89,0.77,0.87,0.83,0.90],
  [0.62,0.71,0.55,0.67,0.74,0.58,0.69,0.52,0.65,0.72,0.60,0.68,0.54,0.70,0.63,0.57,0.73,0.61,0.66,0.50,0.69,0.64,0.59,0.72,0.56,0.67,0.62,0.70,0.58,0.65,0.61,0.68,0.55,0.66,
   0.64,0.58,0.62,0.55,0.60,0.52,0.56,0.48,0.52,0.44,0.48,0.38,0.42,0.33,0.45,0.44,0.58,0.58,0.72,0.72,0.85,0.82,0.92,0.88,0.95,0.85,0.90,0.80,0.82,0.72,0.75,0.66,0.70,0.60,0.65,0.56,0.62,0.55,0.60,
   0.58,0.65,0.54,0.61,0.66,0.52,0.60,0.57,0.63,0.49,0.59,0.64,0.55,0.61,0.58,0.66,0.53,0.60,0.56,0.62,0.50,0.59,0.64,0.54,0.61,0.57,0.52,0.45],
  [0.78,0.88,0.73,0.84,0.80,0.91,0.75,0.86,0.71,0.83,0.89,0.77,0.85,0.74,0.92,0.81,0.76,0.87,0.79,0.84,0.72,0.90,0.82,0.77,0.86,0.80,0.74,0.88,0.83,0.78,0.85,0.76,0.81,0.87,
   0.82,0.74,0.80,0.70,0.78,0.68,0.74,0.64,0.70,0.60,0.66,0.55,0.62,0.52,0.64,0.62,0.76,0.78,0.90,0.92,1.04,1.00,1.12,1.05,1.14,1.03,1.08,0.96,1.00,0.90,0.92,0.84,0.86,0.78,0.82,0.74,0.78,0.72,0.76,
   0.76,0.70,0.79,0.73,0.68,0.81,0.74,0.71,0.77,0.66,0.78,0.73,0.80,0.69,0.75,0.72,0.78,0.67,0.76,0.71,0.74,0.79,0.70,0.77,0.73,0.81,0.75,0.78],
  [0.72,0.65,0.80,0.69,0.76,0.63,0.74,0.82,0.67,0.71,0.78,0.64,0.73,0.81,0.68,0.75,0.62,0.77,0.70,0.79,0.66,0.74,0.69,0.80,0.64,0.72,0.77,0.67,0.75,0.70,0.63,0.78,0.71,0.74,
   0.76,0.68,0.74,0.66,0.72,0.62,0.68,0.60,0.64,0.56,0.60,0.50,0.56,0.46,0.58,0.56,0.70,0.72,0.84,0.86,0.98,0.94,1.06,1.00,1.08,0.98,1.02,0.92,0.95,0.85,0.88,0.78,0.82,0.73,0.77,0.70,0.74,0.67,0.72,
   0.69,0.74,0.66,0.71,0.63,0.72,0.68,0.75,0.64,0.70,0.67,0.73,0.62,0.69,0.71,0.65,0.74,0.68,0.63,0.72,0.66,0.70,0.60,0.69,0.73,0.65,0.71,0.67]
];

// ---------------- Emergency manager directions: unemployment rate ----------------
const emergencyRateTrend = [4.9,4.8,4.75,4.7,4.65,4.6,4.58,4.55,4.52,4.5,4.5,4.48,4.46,4.44,4.42,4.4,4.35,4.3,4.2,4.05,
  3.85,3.55,3.25,3.05,2.97,2.95,2.97,3.05,3.15,3.28,3.42,3.55,3.67,3.77,3.84,3.89,3.92,3.94,3.96,3.98,
  4.0,4.01,4.02,4.03,4.04,4.05,4.05,4.05,4.05,4.05,4.05];
const emergencyRateHighlight = [6.0,4.9,6.5,5.2,4.8,6.0,5.7,6.1,4.0,5.4,5.6,8.5,2.5,5.2,6.3,4.5,4.7,5.1,7.5,3.0,
  5.2,8.3,6.0,5.5,3.1,5.0,6.2,5.6,6.6,5.0,6.1,4.0,4.6,5.0,3.8,4.4,4.2,1.5,5.0,3.4,
  4.0,3.3,2.1,4.6,5.0,3.2,1.5,4.6,5.1,3.8,2.0,4.5,3.5,2.5,4.0,3.2,2.0,4.4,3.5,2.9,
  3.0,4.2,5.0,3.7,4.0,4.8,4.5,3.5,4.2,4.6,3.8,4.3,3.9,4.2,4.1,5.0,3.6,4.1,3.5,4.0,
  3.7,4.2,5.5,4.3,4.0,5.1,4.6,3.5,4.2,4.4,3.8,7.2,4.0,5.5,6.5,4.3,4.0,4.5,3.6,3.9,3.0];
const emergencyRateRuns = [
  [4.5,8.2,2.1,0.0,6.8,12.5,3.4,0.0,9.1,5.2,1.3,7.6,0.0,14.2,4.1,2.5,8.8,0.0,6.3,3.0,11.2,5.5,0.0,7.1,2.8,9.6,4.4,0.0,6.0,13.1,
   1.9,5.8,0.0,8.4,3.3,0.0,7.5,2.2,10.4,4.8,0.0,6.6,3.1,0.0,9.2,1.5,5.4,0.0,4.0,7.8,2.6,0.0,5.9,3.5,0.0,8.1,1.8,4.6,0.0,6.2,
   3.8,0.0,7.0,2.4,5.1,0.0,4.3,8.9,1.6,3.7,0.0,5.6,2.9,6.8,0.0,4.1,3.2,7.3,1.2,5.0,0.0,3.9,6.5,2.3,4.7,0.0,5.8,3.0,8.4,1.7,
   4.2,0.0,6.1,2.6,5.3,0.0,3.6,7.0,2.0,4.9,1.1],
  [2.8,5.9,9.4,3.6,0.0,7.2,4.8,17.5,2.0,6.1,0.0,5.3,10.8,3.9,1.2,8.0,4.6,0.0,12.8,5.7,2.9,0.0,7.9,4.2,15.6,3.4,0.0,6.5,8.7,2.1,
   4.9,0.0,11.4,5.1,2.7,6.9,0.0,4.0,8.3,1.6,5.5,3.2,0.0,7.4,2.5,4.7,0.0,6.3,3.9,1.8,9.8,4.4,0.0,5.6,2.8,6.7,0.0,3.5,7.7,1.4,
   4.9,3.0,0.0,6.0,4.5,2.2,9.9,3.6,0.0,5.0,4.3,1.9,6.4,3.3,0.0,5.2,2.7,4.8,8.6,1.9,3.6,0.0,5.4,4.0,2.4,6.9,0.0,4.5,3.2,10.9,
   2.6,5.7,0.0,4.1,3.4,7.6,1.5,5.0,0.0,3.8,5.9],
  [6.2,3.1,0.0,10.6,5.4,2.3,15.2,4.0,0.0,7.7,3.5,6.0,2.2,0.0,9.0,4.9,1.6,6.6,0.0,3.8,17.8,2.4,5.1,0.0,8.1,4.5,11.9,1.8,5.0,0.0,
   6.8,3.7,2.5,7.0,0.0,4.6,9.5,2.9,0.0,5.7,3.4,8.0,1.7,4.3,0.0,6.4,2.6,5.0,0.0,3.3,7.1,2.1,4.8,0.0,10.1,3.2,5.3,0.0,2.4,6.1,
   4.0,1.3,5.5,0.0,3.9,7.2,2.8,4.6,0.0,6.3,3.5,5.1,2.0,4.4,7.9,0.0,3.1,5.6,4.2,2.5,6.0,0.0,4.8,3.3,9.4,2.2,4.6,0.0,5.2,3.7,
   6.3,1.6,4.0,0.0,3.5,5.8,2.9,4.5,6.7,0.0,3.2],
  [3.9,1.5,5.7,8.8,0.0,4.2,2.7,6.4,13.9,3.0,5.8,0.0,4.4,7.3,2.0,0.0,5.9,3.6,9.7,1.2,4.7,6.8,0.0,13.3,3.2,5.4,2.6,0.0,7.8,4.1,
   9.9,0.0,3.0,5.6,1.9,0.0,6.2,4.4,2.3,13.8,0.0,3.7,5.9,2.4,6.8,0.0,4.5,3.1,7.5,0.0,5.2,2.0,4.1,6.6,0.0,3.4,4.9,1.7,8.5,3.0,
   0.0,5.4,2.7,4.2,6.1,0.0,3.8,5.0,2.4,4.6,1.5,6.2,0.0,3.7,4.9,2.8,5.5,0.0,4.3,3.6,2.1,5.9,3.1,0.0,4.6,6.4,2.5,3.8,0.0,5.1,
   2.2,4.7,5.6,0.0,3.9,2.4,6.0,0.0,4.3,1.8,5.2],
  [5.1,7.4,3.3,0.0,4.8,9.3,2.6,5.9,0.0,8.3,4.2,12.4,3.0,0.0,6.9,5.3,2.1,7.8,4.5,0.0,6.1,3.8,9.2,2.5,5.6,0.0,7.3,4.0,3.1,6.7,
   0.0,5.0,8.9,2.3,4.7,0.0,5.8,3.4,17.6,2.8,4.4,0.0,6.3,3.2,5.1,15.4,2.0,4.7,0.0,6.0,3.5,2.7,5.4,0.0,7.1,4.2,3.0,0.0,5.8,2.5,
   4.9,6.3,0.0,3.4,5.7,2.9,4.1,0.0,6.6,3.7,4.5,2.2,5.3,0.0,4.0,3.1,6.1,2.6,0.0,4.8,5.5,3.0,2.3,6.7,0.0,4.2,3.5,5.9,2.1,4.4,
   0.0,3.3,5.0,2.8,4.6,6.2,0.0,3.7,4.1,2.5,4.8],
  [4.0,6.6,0.0,5.5,3.2,8.1,0.0,4.3,6.9,2.4,9.7,0.0,5.0,3.6,7.2,1.8,10.3,4.9,0.0,6.4,3.3,5.8,14.6,0.0,4.6,7.0,2.9,5.5,0.0,3.8,
   6.2,4.4,0.0,9.3,2.6,5.2,3.7,0.0,6.1,4.9,2.2,7.6,0.0,5.3,3.1,4.5,6.8,0.0,3.6,5.7,1.9,4.6,7.3,0.0,4.0,5.9,2.7,6.5,0.0,4.4,
   3.2,5.6,2.1,7.8,0.0,4.7,3.4,5.9,2.5,0.0,4.9,3.8,6.4,2.0,4.3,5.2,0.0,3.5,6.0,4.1,2.8,5.3,0.0,4.6,3.0,5.7,7.4,2.2,4.8,0.0,
   5.4,3.3,9.6,4.5,2.6,0.0,5.0,3.9,4.4,2.1,3.6]
];

// ---------------- Emergency manager directions: long-term unemployment rate ----------------
const emergencyLongTrend = [1.55,1.5,1.45,1.4,1.37,1.34,1.31,1.28,1.26,1.24,1.22,1.21,1.2,1.19,1.18,1.16,1.13,1.09,1.03,0.95,
  0.85,0.7,0.55,0.43,0.37,0.35,0.36,0.39,0.44,0.5,0.56,0.62,0.68,0.73,0.77,0.8,0.83,0.85,0.87,0.88,
  0.9,0.91,0.92,0.93,0.94,0.95,0.96,0.96,0.97,0.97,0.97];
const emergencyLongHighlight = [2.6,1.2,1.8,1.2,2.6,1.5,1.1,2.5,2.3,1.0,1.8,1.3,0.8,1.4,2.5,1.5,0.8,2.2,1.0,1.6,
  2.0,2.9,1.5,0.8,1.8,1.2,1.0,1.6,2.5,1.2,1.6,0.7,1.4,0.6,1.0,0.8,1.7,0.9,0.8,0.3,
  1.2,0.3,0.5,0.0,0.8,0.4,0.7,0.0,0.6,0.2,0.9,0.4,0.0,0.7,0.1,0.8,0.5,0.3,1.0,0.6,
  0.4,1.1,0.7,0.5,1.2,0.5,1.0,0.7,1.3,0.6,0.8,1.1,0.6,1.2,0.9,1.4,0.7,1.1,0.8,1.5,
  0.9,1.3,0.7,1.0,1.4,0.6,1.2,0.9,1.6,1.1,0.8,1.5,1.0,1.3,0.6,0.8,1.1,1.2,0.5,0.9,0.6];
const emergencyLongRuns = [
  [0.0,2.4,0.0,4.6,0.0,1.2,0.0,0.0,10.3,0.0,2.8,0.0,0.0,1.5,3.6,0.0,0.0,7.9,0.0,1.1,0.0,0.0,4.8,0.0,2.2,0.0,0.0,5.6,0.0,1.4,
   0.0,0.0,3.1,0.0,0.0,2.0,0.0,8.8,0.0,0.0,1.6,0.0,0.0,3.4,0.0,0.0,0.0,1.8,0.0,0.0,2.6,0.0,0.0,0.0,1.2,0.0,0.0,6.0,0.0,0.0,
   0.9,0.0,2.1,0.0,0.0,0.0,3.0,0.0,0.0,1.4,0.0,0.0,2.7,0.0,0.0,4.1,0.0,0.0,1.6,0.0,0.0,2.9,0.0,0.0,1.3,0.0,0.0,3.5,0.0,0.0,
   1.9,0.0,0.0,2.4,0.0,0.0,1.0,0.0,2.5,0.0,0.0],
  [2.5,2.8,2.3,3.0,2.6,2.2,2.9,2.4,2.1,2.7,2.5,2.0,2.6,2.3,2.8,2.2,2.4,2.0,2.6,2.3,2.1,11.5,2.2,1.9,2.4,2.0,2.1,1.8,2.3,1.9,
   1.6,2.0,1.4,1.7,1.2,0.9,1.1,0.6,0.8,0.4,0.6,0.2,0.3,0.0,0.2,0.0,0.1,0.3,0.0,0.4,0.2,0.5,0.7,0.4,0.8,0.6,1.0,0.9,1.2,1.0,
   1.3,1.5,1.2,1.6,1.8,1.4,2.0,1.7,2.3,1.9,2.6,2.2,2.4,2.0,2.7,2.3,2.5,2.1,2.8,2.4,2.2,2.6,2.3,2.0,2.5,2.7,2.2,2.4,2.6,2.1,
   2.5,2.3,2.8,2.2,2.4,2.6,2.0,2.5,2.3,2.7,2.4],
  [4.4,0.0,0.0,7.0,0.0,0.0,1.8,0.0,5.2,0.0,0.0,8.3,0.0,0.0,2.6,6.5,0.0,0.0,1.5,0.0,7.2,0.0,0.0,2.9,0.0,0.0,6.2,0.0,1.0,0.0,
   0.0,4.3,0.0,0.0,5.9,0.0,0.0,1.7,0.0,0.0,3.8,0.0,0.0,0.0,2.2,0.0,4.0,0.0,0.0,0.0,1.1,0.0,2.8,0.0,0.0,0.0,3.3,0.0,0.0,1.5,
   0.0,0.0,2.4,0.0,0.0,5.2,0.0,1.3,0.0,0.0,2.0,0.0,0.0,3.6,0.0,0.0,1.2,0.0,0.0,4.0,0.0,0.0,2.1,0.0,0.0,1.4,0.0,0.0,5.2,0.0,
   0.0,2.3,0.0,0.0,1.6,0.0,3.1,0.0,0.0,1.2,0.0],
  [1.4,1.6,1.2,1.8,1.3,1.5,2.0,4.5,1.4,1.7,1.2,1.5,1.8,1.3,7.6,1.6,1.1,1.4,1.9,1.2,1.5,1.3,1.7,1.0,1.4,8.5,1.2,1.6,1.1,1.3,
   1.5,0.9,1.2,1.0,0.8,1.1,0.7,0.9,0.5,0.7,0.4,0.6,0.3,0.5,0.2,0.4,0.3,0.2,0.4,0.3,0.5,0.4,0.6,0.5,0.8,0.6,0.9,0.7,1.0,0.8,
   1.1,0.9,1.2,1.0,1.1,1.3,0.9,1.2,1.4,1.0,1.3,1.1,1.5,1.2,1.0,1.4,1.2,1.6,1.1,1.3,1.0,1.5,1.2,1.4,1.1,1.3,1.6,1.0,1.2,1.4,
   1.1,1.3,1.5,1.2,1.0,1.4,1.1,1.3,1.2,1.0,1.2],
  [0.0,5.1,0.0,0.0,3.2,0.0,2.4,0.0,0.0,6.8,0.0,0.0,2.0,0.0,0.0,3.9,0.0,0.0,8.0,0.0,0.0,2.5,0.0,0.0,6.3,0.0,3.4,0.0,0.0,2.7,
   0.0,0.0,1.9,0.0,0.0,3.0,0.0,0.0,0.0,2.5,0.0,0.0,1.4,0.0,0.0,0.0,3.6,0.0,0.0,0.0,0.0,2.1,0.0,0.0,1.0,0.0,0.0,0.0,2.9,0.0,
   0.0,1.7,0.0,0.0,0.0,4.8,0.0,0.0,2.0,0.0,0.0,1.1,0.0,0.0,3.9,0.0,0.0,2.2,0.0,0.0,1.5,0.0,0.0,2.8,0.0,0.0,3.4,0.0,0.0,1.8,
   0.0,5.1,0.0,0.0,2.0,0.0,0.0,1.4,0.0,0.0,2.6],
  [2.0,0.0,3.5,0.0,1.1,7.1,0.0,0.0,2.2,0.0,4.9,0.0,1.6,0.0,0.0,5.4,0.0,2.3,0.0,0.0,3.0,0.0,0.0,1.4,0.0,0.0,3.3,0.0,2.1,0.0,
   4.6,0.0,0.0,1.2,0.0,0.0,2.4,0.0,0.0,0.0,1.6,0.0,0.0,0.8,0.0,0.0,1.9,0.0,0.0,0.0,0.5,0.0,0.0,1.4,0.0,0.0,0.0,2.3,0.0,0.0,
   0.0,1.2,0.0,3.8,0.0,0.0,1.5,0.0,0.0,0.9,0.0,2.2,0.0,0.0,0.0,3.5,0.0,0.0,1.6,0.0,0.0,2.5,0.0,0.0,1.0,0.0,0.0,4.0,0.0,0.0,
   2.2,0.0,0.0,1.3,0.0,0.0,2.8,0.0,0.0,1.1,0.0]
];

// ---------------- panel layout ----------------
const rateLabel = ["unemployment", "rate (%)"];
const longLabel = ["long-term", "unemployment", "rate (%)"];
const fmtInt = d3.format("d");
const fmtOne = d3.format(".1f");

const panels = [
  { title: "Sales representatives", titleX: 195, titleY: 31, label: rateLabel,
    left: 126, top: 12.5, width: 440, height: 194.5, domain: [-1.04, 19.3], ticks: [0, 10], fmt: fmtInt,
    trend: salesRateTrend, highlight: salesRateHighlight, runs: salesRateRuns },
  { title: "Lawyers and judges", titleX: 790, titleY: 43, label: rateLabel,
    left: 719, top: 12.5, width: 439, height: 194.5, domain: [1.43, 4.62], ticks: [2, 3, 4], fmt: fmtInt,
    trend: lawyersRateTrend, highlight: lawyersRateHighlight, runs: lawyersRateRuns },
  { title: null, label: longLabel,
    left: 126, top: 246, width: 440, height: 193, domain: [-0.40, 8.73], ticks: [0, 2.5, 5, 7.5], fmt: fmtOne,
    trend: salesLongTrend, highlight: salesLongHighlight, runs: salesLongRuns },
  { title: null, label: longLabel,
    left: 719, top: 246, width: 439, height: 193, domain: [-0.05, 1.156], ticks: [0, 0.5, 1], fmt: fmtOne,
    trend: lawyersLongTrend, highlight: lawyersLongHighlight, runs: lawyersLongRuns },
  { title: "Electricians", titleX: 189, titleY: 648, label: rateLabel,
    left: 126, top: 477.5, width: 440, height: 193.5, domain: [1.41, 4.91], ticks: [2, 3, 4], fmt: fmtInt,
    trend: electriciansRateTrend, highlight: electriciansRateHighlight, runs: electriciansRateRuns },
  { title: "Emergency manager directions", titleX: 790, titleY: 504, label: rateLabel,
    left: 719, top: 477.5, width: 439, height: 193.5, domain: [-0.97, 19.85], ticks: [0, 10], fmt: fmtInt,
    trend: emergencyRateTrend, highlight: emergencyRateHighlight, runs: emergencyRateRuns },
  { title: null, label: longLabel,
    left: 126, top: 710.5, width: 440, height: 194, domain: [-0.063, 1.40], ticks: [0, 0.5, 1], fmt: fmtOne,
    trend: electriciansLongTrend, highlight: electriciansLongHighlight, runs: electriciansLongRuns },
  { title: null, label: longLabel,
    left: 719, top: 710.5, width: 439, height: 194, domain: [-0.54, 12.0], ticks: [0, 5, 10], fmt: fmtInt,
    trend: emergencyLongTrend, highlight: emergencyLongHighlight, runs: emergencyLongRuns }
];

// ---------------- drawing ----------------
const svg = d3.select("#chart");
const FONT = '"DejaVu Sans", sans-serif';
const defs = svg.append("defs");

// thin divider between the two lower panel groups
svg.append("line")
  .attr("x1", 600.5).attr("x2", 600.5).attr("y1", 471).attr("y2", 930)
  .attr("stroke", "#d2d2d2").attr("stroke-width", 1.5);

panels.forEach((p, k) => {
  const x = d3.scaleLinear().domain(period).range([p.left, p.left + p.width]);
  const y = d3.scaleLinear().domain(p.domain).range([p.top + p.height, p.top]);
  const g = svg.append("g");

  const clipId = "plot-clip-" + k;
  defs.append("clipPath").attr("id", clipId)
    .append("rect").attr("x", p.left).attr("y", p.top).attr("width", p.width).attr("height", p.height);

  // shaded transition window
  g.append("rect")
    .attr("x", x(shockWindow[0])).attr("y", p.top)
    .attr("width", x(shockWindow[1]) - x(shockWindow[0])).attr("height", p.height)
    .attr("fill", "#cbcbcb");

  // dotted marker at the start of the window
  g.append("line")
    .attr("x1", x(shockWindow[0])).attr("x2", x(shockWindow[0]))
    .attr("y1", p.top).attr("y2", p.top + p.height)
    .attr("stroke", "#d26a68").attr("stroke-opacity", 0.85)
    .attr("stroke-width", 2.5).attr("stroke-dasharray", "2.4,3.2");

  const plot = g.append("g").attr("clip-path", `url(#${clipId})`);
  const pathOf = (arr, curve) => d3.line()
    .x((d, i) => x(period[0] + i * (period[1] - period[0]) / (arr.length - 1)))
    .y(d => y(d))
    .curve(curve)(arr);

  p.runs.forEach(run => {
    plot.append("path")
      .attr("d", pathOf(run, d3.curveLinear))
      .attr("fill", "none").attr("stroke", "#1f8c1f")
      .attr("stroke-opacity", 0.3).attr("stroke-width", 1.2);
  });

  plot.append("path")
    .attr("d", pathOf(p.highlight, d3.curveLinear))
    .attr("fill", "none").attr("stroke", "#a8463c")
    .attr("stroke-width", 3.4).attr("stroke-linejoin", "round");

  plot.append("path")
    .attr("d", pathOf(p.trend, d3.curveMonotoneX))
    .attr("fill", "none").attr("stroke", "#000")
    .attr("stroke-width", 2.6).attr("stroke-dasharray", "9,4");

  // axes: left and bottom spines only
  const ya = g.append("g").attr("transform", `translate(${p.left},0)`)
    .call(d3.axisLeft(y).tickValues(p.ticks).tickFormat(p.fmt)
      .tickSize(3.5).tickPadding(3.5).tickSizeOuter(0));
  const xa = g.append("g").attr("transform", `translate(0,${p.top + p.height})`)
    .call(d3.axisBottom(x).tickValues(xTicks).tickFormat(fmtInt)
      .tickSize(3.5).tickPadding(3.5).tickSizeOuter(0));
  [ya, xa].forEach(a => {
    a.attr("font-size", null).attr("font-family", null);
    a.selectAll("text").attr("font-size", 19.5).attr("fill", "#111").style("font-family", FONT);
    a.selectAll(".tick line").attr("stroke", "#555");
    a.select(".domain").attr("stroke", "#555").attr("stroke-width", 1.1);
  });

  // multi-line rotated y label, set just left of the tick labels
  const tickLeft = p.left + ya.node().getBBox().x;
  const lastBase = tickLeft - 7;
  const cy = p.top + p.height / 2;
  p.label.forEach((t, j) => {
    const bx = lastBase - (p.label.length - 1 - j) * 27.6;
    g.append("text")
      .attr("transform", `translate(${bx},${cy}) rotate(-90)`)
      .attr("text-anchor", "middle")
      .attr("font-size", 23).attr("fill", "#111")
      .style("font-family", FONT)
      .text(t);
  });

  if (p.title) {
    g.append("text")
      .attr("x", p.titleX).attr("y", p.titleY)
      .attr("font-size", 23).attr("fill", "#111")
      .style("font-family", FONT)
      .text(p.title);
  }
});
</script>
</body>
</html>
